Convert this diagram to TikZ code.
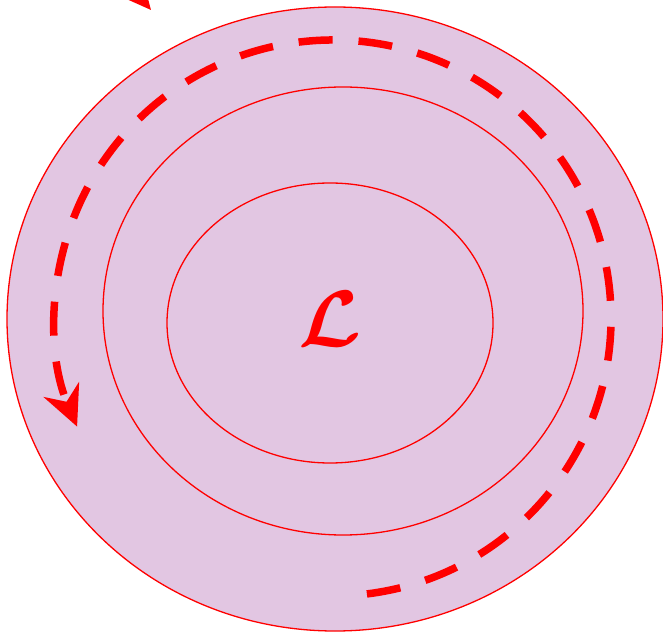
\documentclass[tikz,border=0pt]{standalone}
\usepackage{amsmath}
\usepackage{bm}
\usepackage{tikz}
\usetikzlibrary{arrows.meta}
\definecolor{ring}{HTML}{FF0000}
\definecolor{lobe}{HTML}{E2C6E2}
\tikzset{
  rim/.style={draw=ring,line width=1.3pt},
  sweep/.style={draw=ring,line width=7.5pt,dash pattern=on 34pt off 26pt,
    -{Stealth[length=40pt,width=38pt,inset=13pt]}},
  stub/.style={draw=ring,line width=7.5pt,-{Stealth[length=40pt,width=38pt,inset=13pt]}},
  biglab/.style={text=ring,scale=8},
}
\begin{document}
\begin{tikzpicture}[x=1pt,y=1pt]
  \useasboundingbox (0,0) rectangle (663,632);
  % nested regions
  \filldraw[rim,fill=lobe] (335,313) ellipse (328pt and 312pt);
  \draw[rim] (343,321) ellipse (240pt and 224pt);
  \draw[rim] (330,309) ellipse (163pt and 140pt);
  \node[biglab] (ell) at (330,313) {$\bm{\mathcal{L}}$};
  % loop around
  \draw[sweep] (333,314) ++(-83:278) arc (-83:203:278pt);
  % arrow coming in from outside
  \coordinate (far) at (112,668);
  \coordinate (hit) at (151,622);
  \draw[stub] (far) -- (hit);
\end{tikzpicture}
\end{document}
